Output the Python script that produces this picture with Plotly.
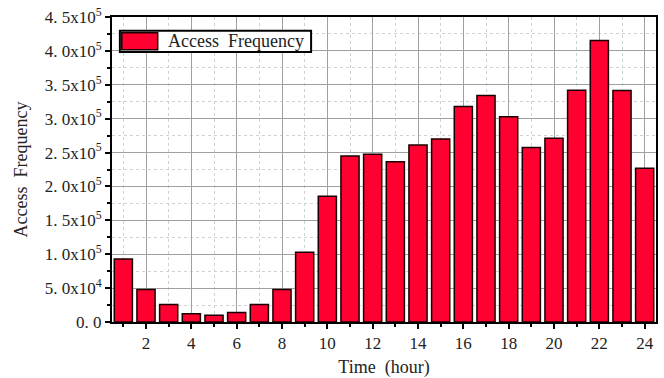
import plotly.graph_objects as go

# Hourly access counts
hours = list(range(1, 25))
access = [93000, 48000, 26000, 12000, 10000, 14000, 26000, 48000,
          103000, 185500, 245000, 247500, 236500, 261000, 270000, 318000,
          334000, 303000, 257500, 271000, 342000, 415500, 341500, 227000]

y_tickvals = [0, 50000, 100000, 150000, 200000, 250000, 300000, 350000, 400000, 450000]
y_ticktext = ["0. 0", "5. 0x10<sup>4</sup>", "1. 0x10<sup>5</sup>", "1. 5x10<sup>5</sup>",
              "2. 0x10<sup>5</sup>", "2. 5x10<sup>5</sup>", "3. 0x10<sup>5</sup>",
              "3. 5x10<sup>5</sup>", "4. 0x10<sup>5</sup>", "4. 5x10<sup>5</sup>"]
x_tickvals = list(range(2, 25, 2))

BAR_RED = "#FF0030"
FONT = "Liberation Serif"
TXT = "#222"

fig = go.Figure(go.Bar(
    x=hours, y=access, width=0.8,
    marker=dict(color=BAR_RED, line=dict(color="#1a0000", width=1.5)),
    name="Access Frequency", showlegend=False,
))

axis_common = dict(
    showline=True, linecolor="black", linewidth=2, mirror=True,
    ticks="outside", ticklen=5, tickwidth=2, tickcolor="black",
    showgrid=True, gridcolor="#a0a0a0", gridwidth=1,
    zeroline=False, automargin=False,
    tickfont=dict(family=FONT, size=17, color=TXT),
)

fig.update_xaxes(
    range=[0.5, 24.5], tickvals=x_tickvals,
    minor=dict(dtick=1, tick0=1, ticks="outside", ticklen=3, tickwidth=2,
               tickcolor="black", showgrid=True, gridcolor="#d0d0d0",
               griddash="dot", gridwidth=1),
    title=dict(text="Time  (hour)", font=dict(family=FONT, size=18, color=TXT),
               standoff=10),
    **axis_common,
)
fig.update_yaxes(
    range=[0, 450000], tickvals=y_tickvals, ticktext=y_ticktext,
    minor=dict(dtick=25000, tick0=0, ticks="outside", ticklen=3, tickwidth=2,
               tickcolor="black", showgrid=True, gridcolor="#d0d0d0",
               griddash="dot", gridwidth=1),
    title=dict(text="Access  Frequency", font=dict(family=FONT, size=18, color=TXT),
               standoff=12),
    **axis_common,
)

# Legend box drawn in paper coordinates
fig.add_shape(type="rect", xref="paper", yref="paper",
              x0=0.0145, x1=0.366, y0=0.885, y1=0.955,
              line=dict(color="black", width=2), fillcolor="white", layer="above")
fig.add_shape(type="rect", xref="paper", yref="paper",
              x0=0.018, x1=0.084, y0=0.893, y1=0.948,
              line=dict(color="#1a0000", width=1.5), fillcolor=BAR_RED, layer="above")
fig.add_annotation(xref="paper", yref="paper", x=0.1, y=0.92,
                   xanchor="left", yanchor="middle", showarrow=False,
                   text="Access  Frequency",
                   font=dict(family=FONT, size=18, color=TXT))

fig.update_layout(
    width=664, height=378,
    margin=dict(l=112, r=8, t=17, b=56),
    plot_bgcolor="white", paper_bgcolor="white",
    bargap=0.2,
)

fig.write_html("out.html")
